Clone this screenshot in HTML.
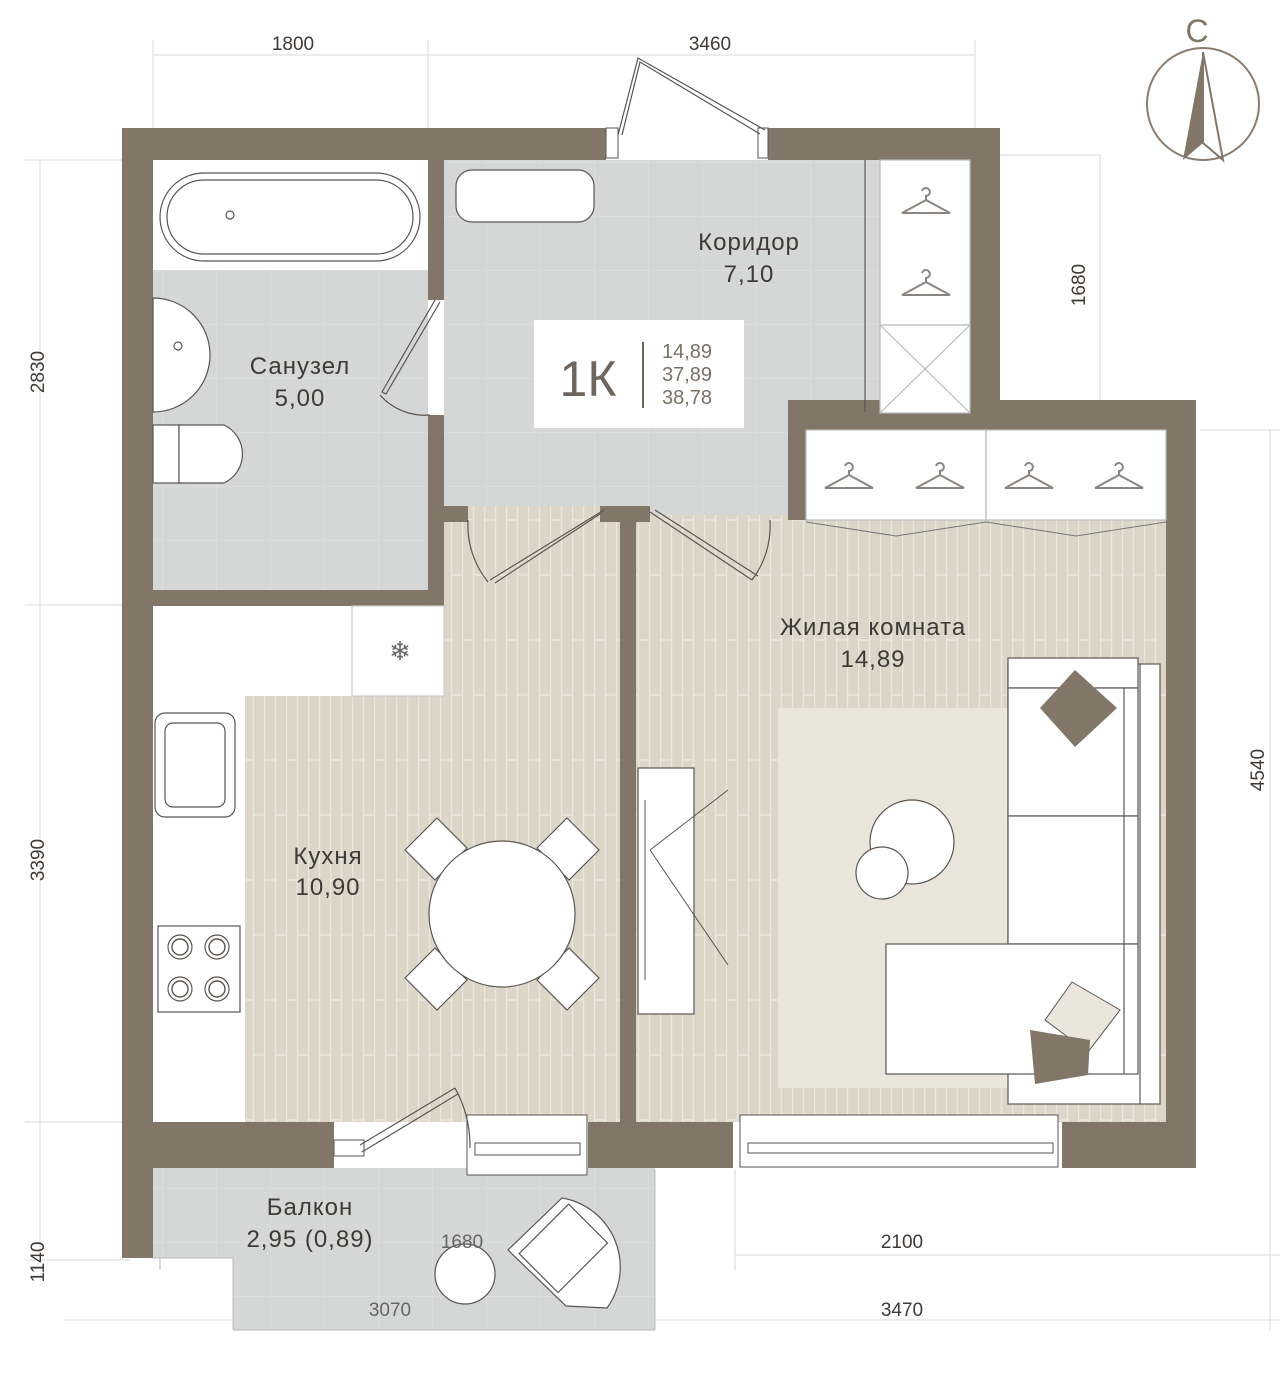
<!DOCTYPE html>
<html><head><meta charset="utf-8"><style>
html,body{margin:0;padding:0;background:#fff}
svg{display:block}
text{font-family:"Liberation Sans",sans-serif;fill:#3f3a36}
</style></head><body>
<svg width="1280" height="1390" viewBox="0 0 1280 1390" xmlns="http://www.w3.org/2000/svg">
<defs>
<pattern id="wood" width="22" height="120" patternUnits="userSpaceOnUse">
<rect width="22" height="120" fill="#ddd5c8"/>
<line x1="0.5" y1="0" x2="0.5" y2="120" stroke="#ece7de" stroke-width="1.5"/>
<line x1="11.5" y1="0" x2="11.5" y2="120" stroke="#ece7de" stroke-width="1.5"/>
<line x1="0" y1="40" x2="11" y2="40" stroke="#ece7de" stroke-width="1.5"/>
<line x1="11" y1="95" x2="22" y2="95" stroke="#ece7de" stroke-width="1.5"/>
</pattern>
<pattern id="tile" width="54" height="54" patternUnits="userSpaceOnUse">
<rect width="54" height="54" fill="#d5d6d6"/>
<path d="M0 0.5H54M0.5 0V54" stroke="#dcdddd" stroke-width="1"/>
</pattern>
<g id="hanger" fill="none" stroke="#8a8580" stroke-width="2">
<path d="M-4 -14a4 4 0 1 1 4 5v4M0 -5L-24 8h48z"/>
</g>
</defs>

<g stroke="#d9d9d9" stroke-width="1" fill="none">
<path d="M153 55H975M153 40V130M428 40V130M975 40V130"/>
<path d="M40 160V1260M25 160H130M25 605H130M25 1122H130M25 1260H130"/>
<path d="M1000 155H1100M1200 430H1280M1100 155V430"/>
<path d="M735 1255H1280M735 1170V1270M65 1320H1280M1270 430V1330"/>
</g>
<g font-size="19" fill="#555">
<text x="293" y="50" text-anchor="middle">1800</text>
<text x="710" y="50" text-anchor="middle">3460</text>
<text transform="translate(44,372) rotate(-90)" text-anchor="middle">2830</text>
<text transform="translate(44,860) rotate(-90)" text-anchor="middle">3390</text>
<text transform="translate(44,1262) rotate(-90)" text-anchor="middle">1140</text>
<text transform="translate(1085,285) rotate(-90)" text-anchor="middle">1680</text>
<text transform="translate(1264,770) rotate(-90)" text-anchor="middle">4540</text>
<text x="902" y="1248" text-anchor="middle">2100</text>
<text x="902" y="1316" text-anchor="middle">3470</text>
</g>

<circle cx="1203" cy="104" r="56" fill="none" stroke="#8a7d70" stroke-width="2"/>
<path d="M1203 52L1183 160L1203 143Z" fill="#827669"/>
<path d="M1203 52L1223 160L1203 143Z" fill="none" stroke="#827669" stroke-width="2"/>
<text x="1197" y="42" font-size="32" text-anchor="middle" style="fill:#827669">С</text>

<rect x="153" y="160" width="275" height="430" fill="url(#tile)"/>
<rect x="444" y="160" width="436" height="346" fill="url(#tile)"/>
<rect x="444" y="415" width="346" height="100" fill="url(#tile)"/>
<rect x="245" y="606" width="375" height="516" fill="url(#wood)"/>
<rect x="444" y="506" width="176" height="100" fill="url(#wood)"/>
<rect x="636" y="515" width="530" height="607" fill="url(#wood)"/>
<rect x="153" y="1168" width="502" height="90" fill="url(#tile)"/>
<rect x="233" y="1258" width="422" height="72" fill="url(#tile)"/>

<g fill="#827669">
<rect x="122" y="128" width="484" height="32"/>
<rect x="768" y="128" width="232" height="32"/>
<rect x="970" y="128" width="30" height="287"/>
<rect x="788" y="400" width="408" height="30"/>
<rect x="788" y="400" width="18" height="120"/>
<rect x="1166" y="400" width="30" height="768"/>
<rect x="122" y="128" width="31" height="1130"/>
<rect x="122" y="1122" width="212" height="46"/>
<rect x="588" y="1122" width="145" height="46"/>
<rect x="1062" y="1122" width="134" height="46"/>
<rect x="428" y="160" width="16" height="140"/>
<rect x="428" y="415" width="16" height="191"/>
<rect x="153" y="590" width="291" height="16"/>
<rect x="620" y="506" width="16" height="616"/>
<rect x="428" y="506" width="40" height="16"/>
<rect x="600" y="506" width="50" height="16"/>
</g>

<g fill="#fff" stroke="#5a5550" stroke-width="1.2">
<rect x="153" y="160" width="275" height="110" stroke="none"/>
<rect x="160" y="173" width="260" height="88" rx="44"/>
<rect x="167" y="180" width="246" height="74" rx="37"/>
<circle cx="230" cy="215" r="4"/>
<rect x="456" y="170" width="138" height="52" rx="16"/>
<path d="M153 298a57 57 0 0 1 0 114z"/>
<circle cx="178" cy="346" r="4"/>
<rect x="153" y="425" width="26" height="58"/>
<path d="M179 425h45a32 32 0 0 1 0 58h-45z"/>
<rect x="880" y="160" width="90" height="165" stroke="#bbb"/>
<rect x="880" y="325" width="90" height="88" stroke="#bbb"/>
<path d="M880 325L970 413M970 325L880 413" stroke="#bbb"/>
<rect x="806" y="430" width="180" height="90" stroke="#bbb"/>
<rect x="986" y="430" width="180" height="90" stroke="#bbb"/>
<rect x="153" y="606" width="92" height="516" stroke="none"/>
<rect x="153" y="606" width="291" height="90" stroke="none"/>
<rect x="352" y="606" width="92" height="90" stroke="#ccc"/>
<rect x="155" y="713" width="80" height="104" rx="10"/>
<rect x="165" y="723" width="60" height="84" rx="8"/>
<rect x="158" y="926" width="82" height="86"/>
<circle cx="180" cy="947" r="12"/><circle cx="217" cy="947" r="12"/>
<circle cx="180" cy="989" r="12"/><circle cx="217" cy="989" r="12"/>
</g>
<g fill="none" stroke="#5a5550" stroke-width="1.4">
<circle cx="180" cy="947" r="8"/><circle cx="217" cy="947" r="8"/>
<circle cx="180" cy="989" r="8"/><circle cx="217" cy="989" r="8"/>
</g>
<text x="400" y="660" font-size="26" text-anchor="middle" style="fill:#666">❄</text>
<use href="#hanger" x="926" y="205"/><use href="#hanger" x="926" y="287"/>
<use href="#hanger" x="849" y="480"/><use href="#hanger" x="940" y="480"/>
<use href="#hanger" x="1029" y="480"/><use href="#hanger" x="1119" y="480"/>
<g stroke="#777" fill="none"><path d="M806 522L896 536L986 522L1076 536L1166 522"/></g>

<rect x="778" y="708" width="232" height="380" fill="#ebe5db"/>
<g fill="#fff" stroke="#5a5550" stroke-width="1.2">
<rect x="1008" y="664" width="152" height="440"/>
<rect x="1008" y="658" width="130" height="30"/>
<rect x="1008" y="688" width="130" height="128"/>
<rect x="1008" y="816" width="130" height="128"/>
<rect x="886" y="944" width="252" height="130"/>
<path d="M1124 688V1074M1140 664V1104"/>
<rect x="638" y="768" width="56" height="246"/>
<circle cx="912" cy="842" r="42"/>
<circle cx="882" cy="873" r="26"/>
<path d="M405 850L437 818L467 848L435 880Z"/><path d="M567 818L599 850L569 880L537 848Z"/>
<path d="M405 978L437 1010L467 980L435 948Z"/><path d="M599 978L567 1010L537 980L569 948Z"/>
<circle cx="502" cy="914" r="73"/>
</g>
<path d="M645 800V980M650 850L728 965M650 850L728 790" stroke="#5a5550" fill="none"/>
<path d="M1040 708L1075 670L1117 708L1075 747Z" fill="#827669"/>
<path d="M1045 1020L1072 982L1120 1010L1088 1052Z" fill="#ebe5db" stroke="#5a5550"/>
<path d="M1030 1030L1090 1040L1088 1075L1035 1084Z" fill="#827669"/>

<g fill="#fff" stroke="#5a5550" stroke-width="1">
<rect x="334" y="1125" width="134" height="42" stroke="none"/>
<rect x="467" y="1115" width="120" height="60"/>
<rect x="475" y="1143" width="105" height="12"/>
<rect x="740" y="1115" width="318" height="52"/>
<rect x="748" y="1143" width="305" height="10"/>
<rect x="334" y="1140" width="30" height="16"/>
<rect x="606" y="128" width="12" height="30"/><rect x="758" y="128" width="10" height="30"/>
</g>
<g stroke="#5a5550" fill="none" stroke-width="1.2">
<path d="M360 1145L455 1088M362 1152L458 1094"/>
<path d="M455 1088a120 120 0 0 1 15 60"/>
<path d="M618 135L638 58L765 130M622 135L640 62L760 134"/>
<path d="M435 300L382 392L386 394L440 302"/>
<path d="M380 395a60 60 0 0 0 50 20"/>
<path d="M604 510L490 580M600 514L495 583M468 520a90 90 0 0 0 20 62"/>
<path d="M650 512L752 580M655 510L758 576M752 580a90 90 0 0 0 18-60"/>
<path d="M865 160V412"/>
</g>
<g fill="#fff" stroke="#5a5550" stroke-width="1.2">
<ellipse cx="465" cy="1274" rx="30" ry="30"/>
<path d="M508 1250L562 1198a70 70 0 0 1 45 110L566 1306Z"/>
<rect x="536" y="1213" width="55" height="70" transform="rotate(45 563 1248)"/>
</g>
<g stroke="#bbb" fill="none"><path d="M153 1258H233V1330M160 1258V1270M655 1170V1330M233 1330H655"/></g>
<g font-size="19"><text x="462" y="1248" text-anchor="middle" style="fill:#666">1680</text><text x="390" y="1316" text-anchor="middle" style="fill:#666">3070</text></g>

<rect x="534" y="320" width="210" height="108" fill="#fff"/>
<text x="588" y="396" font-size="50" text-anchor="middle" style="fill:#6e655c">1К</text>
<line x1="643" y1="342" x2="643" y2="408" stroke="#6e655c" stroke-width="2"/>
<g font-size="20"><text x="662" y="358" style="fill:#7a7066">14,89</text><text x="662" y="381" style="fill:#7a7066">37,89</text><text x="662" y="404" style="fill:#7a7066">38,78</text></g>

<g font-size="24" text-anchor="middle" letter-spacing="1">
<text x="749" y="250">Коридор</text><text x="749" y="282">7,10</text>
<text x="300" y="374">Санузел</text><text x="300" y="406">5,00</text>
<text x="873" y="635">Жилая комната</text><text x="873" y="667">14,89</text>
<text x="328" y="864">Кухня</text><text x="328" y="895">10,90</text>
<text x="310" y="1215">Балкон</text><text x="310" y="1247">2,95 (0,89)</text>
</g>
</svg>
</body></html>
